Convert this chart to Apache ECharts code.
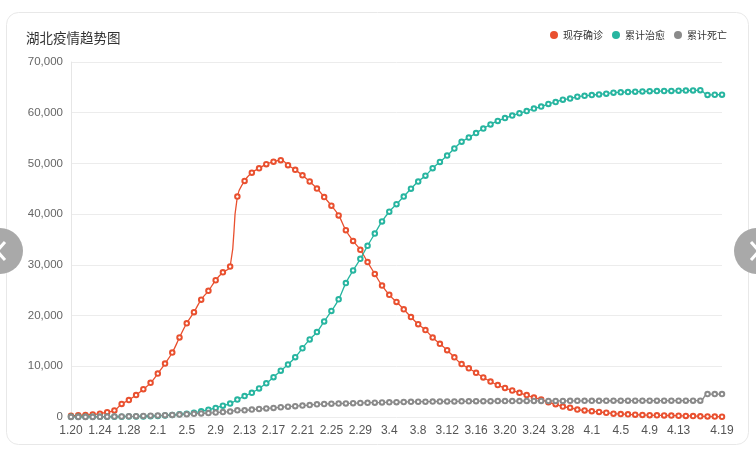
<!DOCTYPE html>
<html>
<head>
<meta charset="utf-8">
<style>
html,body{margin:0;padding:0;background:#fff;}
#main{width:756px;height:452px;}
</style>
<script src="https://cdn.jsdelivr.net/npm/echarts@6/dist/echarts.min.js"></script>
</head>
<body>
<div id="main"></div>
<script>
var dates = ['1.20','1.21','1.22','1.23','1.24','1.25','1.26','1.27','1.28','1.29','1.30','1.31',
'2.1','2.2','2.3','2.4','2.5','2.6','2.7','2.8','2.9','2.10','2.11','2.12','2.13','2.14','2.15','2.16','2.17','2.18','2.19','2.20','2.21','2.22','2.23','2.24','2.25','2.26','2.27','2.28','2.29',
'3.1','3.2','3.3','3.4','3.5','3.6','3.7','3.8','3.9','3.10','3.11','3.12','3.13','3.14','3.15','3.16','3.17','3.18','3.19','3.20','3.21','3.22','3.23','3.24','3.25','3.26','3.27','3.28','3.29','3.30','3.31',
'4.1','4.2','4.3','4.4','4.5','4.6','4.7','4.8','4.9','4.10','4.11','4.12','4.13','4.14','4.15','4.16','4.17','4.18','4.19'];

var existing = [239,338,399,494,658,958,1303,2567,3349,4334,5486,6738,
8565,10532,12712,15679,18483,20677,23139,24881,26965,28532,29659,43455,46537,48175,49030,49847,50338,50633,49665,48730,47647,46439,45044,43369,41660,39755,36829,34715,32959,
30543,28216,25905,24085,22695,21239,19710,18303,17151,15671,14427,13171,11772,10431,9605,8701,7795,6992,6287,5719,5224,4768,4316,3830,3437,2900,2529,2054,1826,1462,1288,
1138,991,837,651,579,518,449,403,352,323,306,287,248,221,182,146,109,74,50];

var cured = [25,28,28,31,32,42,44,47,80,90,116,166,
215,295,396,520,633,817,1115,1439,1795,2222,2639,3441,4131,4774,5623,6639,7862,9128,10337,11788,13557,15299,16748,18854,20912,23200,26403,28895,31187,
33757,36167,38556,40479,41966,43468,45011,46433,47585,49056,50298,51553,52943,54278,55094,55987,56883,57678,58381,58942,59432,59879,60324,60811,61201,61732,62098,62570,62793,63153,63326,
63471,63612,63762,63945,64014,64073,64142,64187,64236,64264,64281,64300,64338,64363,64400,64435,63507,63542,63566];

var deaths = [6,9,17,24,39,52,76,100,125,162,204,249,
294,350,414,479,549,618,699,780,871,974,1068,1310,1318,1457,1596,1696,1789,1921,2029,2144,2250,2346,2495,2563,2615,2641,2682,2727,2761,
2803,2834,2871,2902,2931,2959,2986,3007,3024,3046,3056,3062,3075,3085,3099,3111,3122,3130,3132,3139,3144,3153,3160,3160,3163,3169,3174,3177,3182,3186,3187,
3193,3199,3203,3207,3210,3212,3212,3213,3215,3216,3216,3216,3217,3219,3221,3222,4512,4512,4512];

var seriesNames = ['现存确诊','累计治愈','累计死亡'];
var colors = ['#e9502f','#27b5a0','#8a8a8a'];

var chart = echarts.init(document.getElementById('main'));
var lastIdx = dates.length - 1;
function mkSeries(name, data, color) {
  return {
    name: name, type: 'line', data: data, smooth: true,
    symbol: 'emptyCircle', symbolSize: 4.5, showAllSymbol: true,
    lineStyle: {width: 1.3, color: color},
    itemStyle: {color: color, borderWidth: 0.7},
    emphasis: {disabled: true}
  };
}
chart.setOption({
  animation: false,
  color: colors,
  textStyle: {fontFamily: '"Microsoft YaHei","Noto Sans CJK SC","Noto Sans",sans-serif'},
  title: {
    text: '湖北疫情趋势图', left: 21, top: 26,
    textStyle: {fontSize: 13.5, fontWeight: 'normal', color: '#333',
      fontFamily: '"Noto Sans CJK SC",sans-serif'}
  },
  legend: {
    data: seriesNames, right: 29, top: 30, padding: 0,
    icon: 'circle', itemWidth: 8, itemHeight: 8, itemGap: 9,
    textStyle: {fontSize: 10, color: '#333', fontFamily: '"Noto Sans CJK SC",sans-serif'}
  },
  grid: {left: 71, right: 34, top: 62, bottom: 35, containLabel: false},
  xAxis: {
    type: 'category', data: dates, boundaryGap: false,
    axisLine: {show: false}, axisTick: {show: false},
    axisLabel: {
      color: '#555', fontSize: 12, margin: 8,
      fontFamily: '"Liberation Sans",Arial,sans-serif',
      interval: function (i) { return (i % 4 === 0 && i <= 84) || i === lastIdx; }
    },
    splitLine: {show: false}
  },
  yAxis: {
    type: 'value', min: 0, max: 70000, interval: 10000,
    axisLine: {show: true, lineStyle: {color: '#e6e6e6'}},
    axisTick: {show: false},
    axisLabel: {
      color: '#666', fontSize: 11.5, margin: 8,
      fontFamily: '"Liberation Sans",Arial,sans-serif',
      formatter: function (v) { return v.toLocaleString('en-US'); }
    },
    splitLine: {lineStyle: {color: '#ececec'}}
  },
  graphic: [
    {type: 'rect', z: -10, silent: true,
     shape: {x: 6.5, y: 12.5, width: 742, height: 432, r: 12},
     style: {fill: '#fff', stroke: '#e8e8e8', lineWidth: 1}},
    {type: 'circle', z: 100, silent: true, shape: {cx: 0, cy: 251, r: 23}, style: {fill: '#a9a9a9'}},
    {type: 'polyline', z: 101, silent: true, shape: {points: [[5, 242], [-3, 251], [5, 260]]},
     style: {stroke: '#fff', lineWidth: 3, fill: null}},
    {type: 'circle', z: 100, silent: true, shape: {cx: 757, cy: 251, r: 23}, style: {fill: '#a9a9a9'}},
    {type: 'polyline', z: 101, silent: true, shape: {points: [[751, 242], [759, 251], [751, 260]]},
     style: {stroke: '#fff', lineWidth: 3, fill: null}}
  ],
  series: [
    mkSeries(seriesNames[0], existing, colors[0]),
    mkSeries(seriesNames[1], cured, colors[1]),
    mkSeries(seriesNames[2], deaths, colors[2])
  ]
});
</script>
</body>
</html>
